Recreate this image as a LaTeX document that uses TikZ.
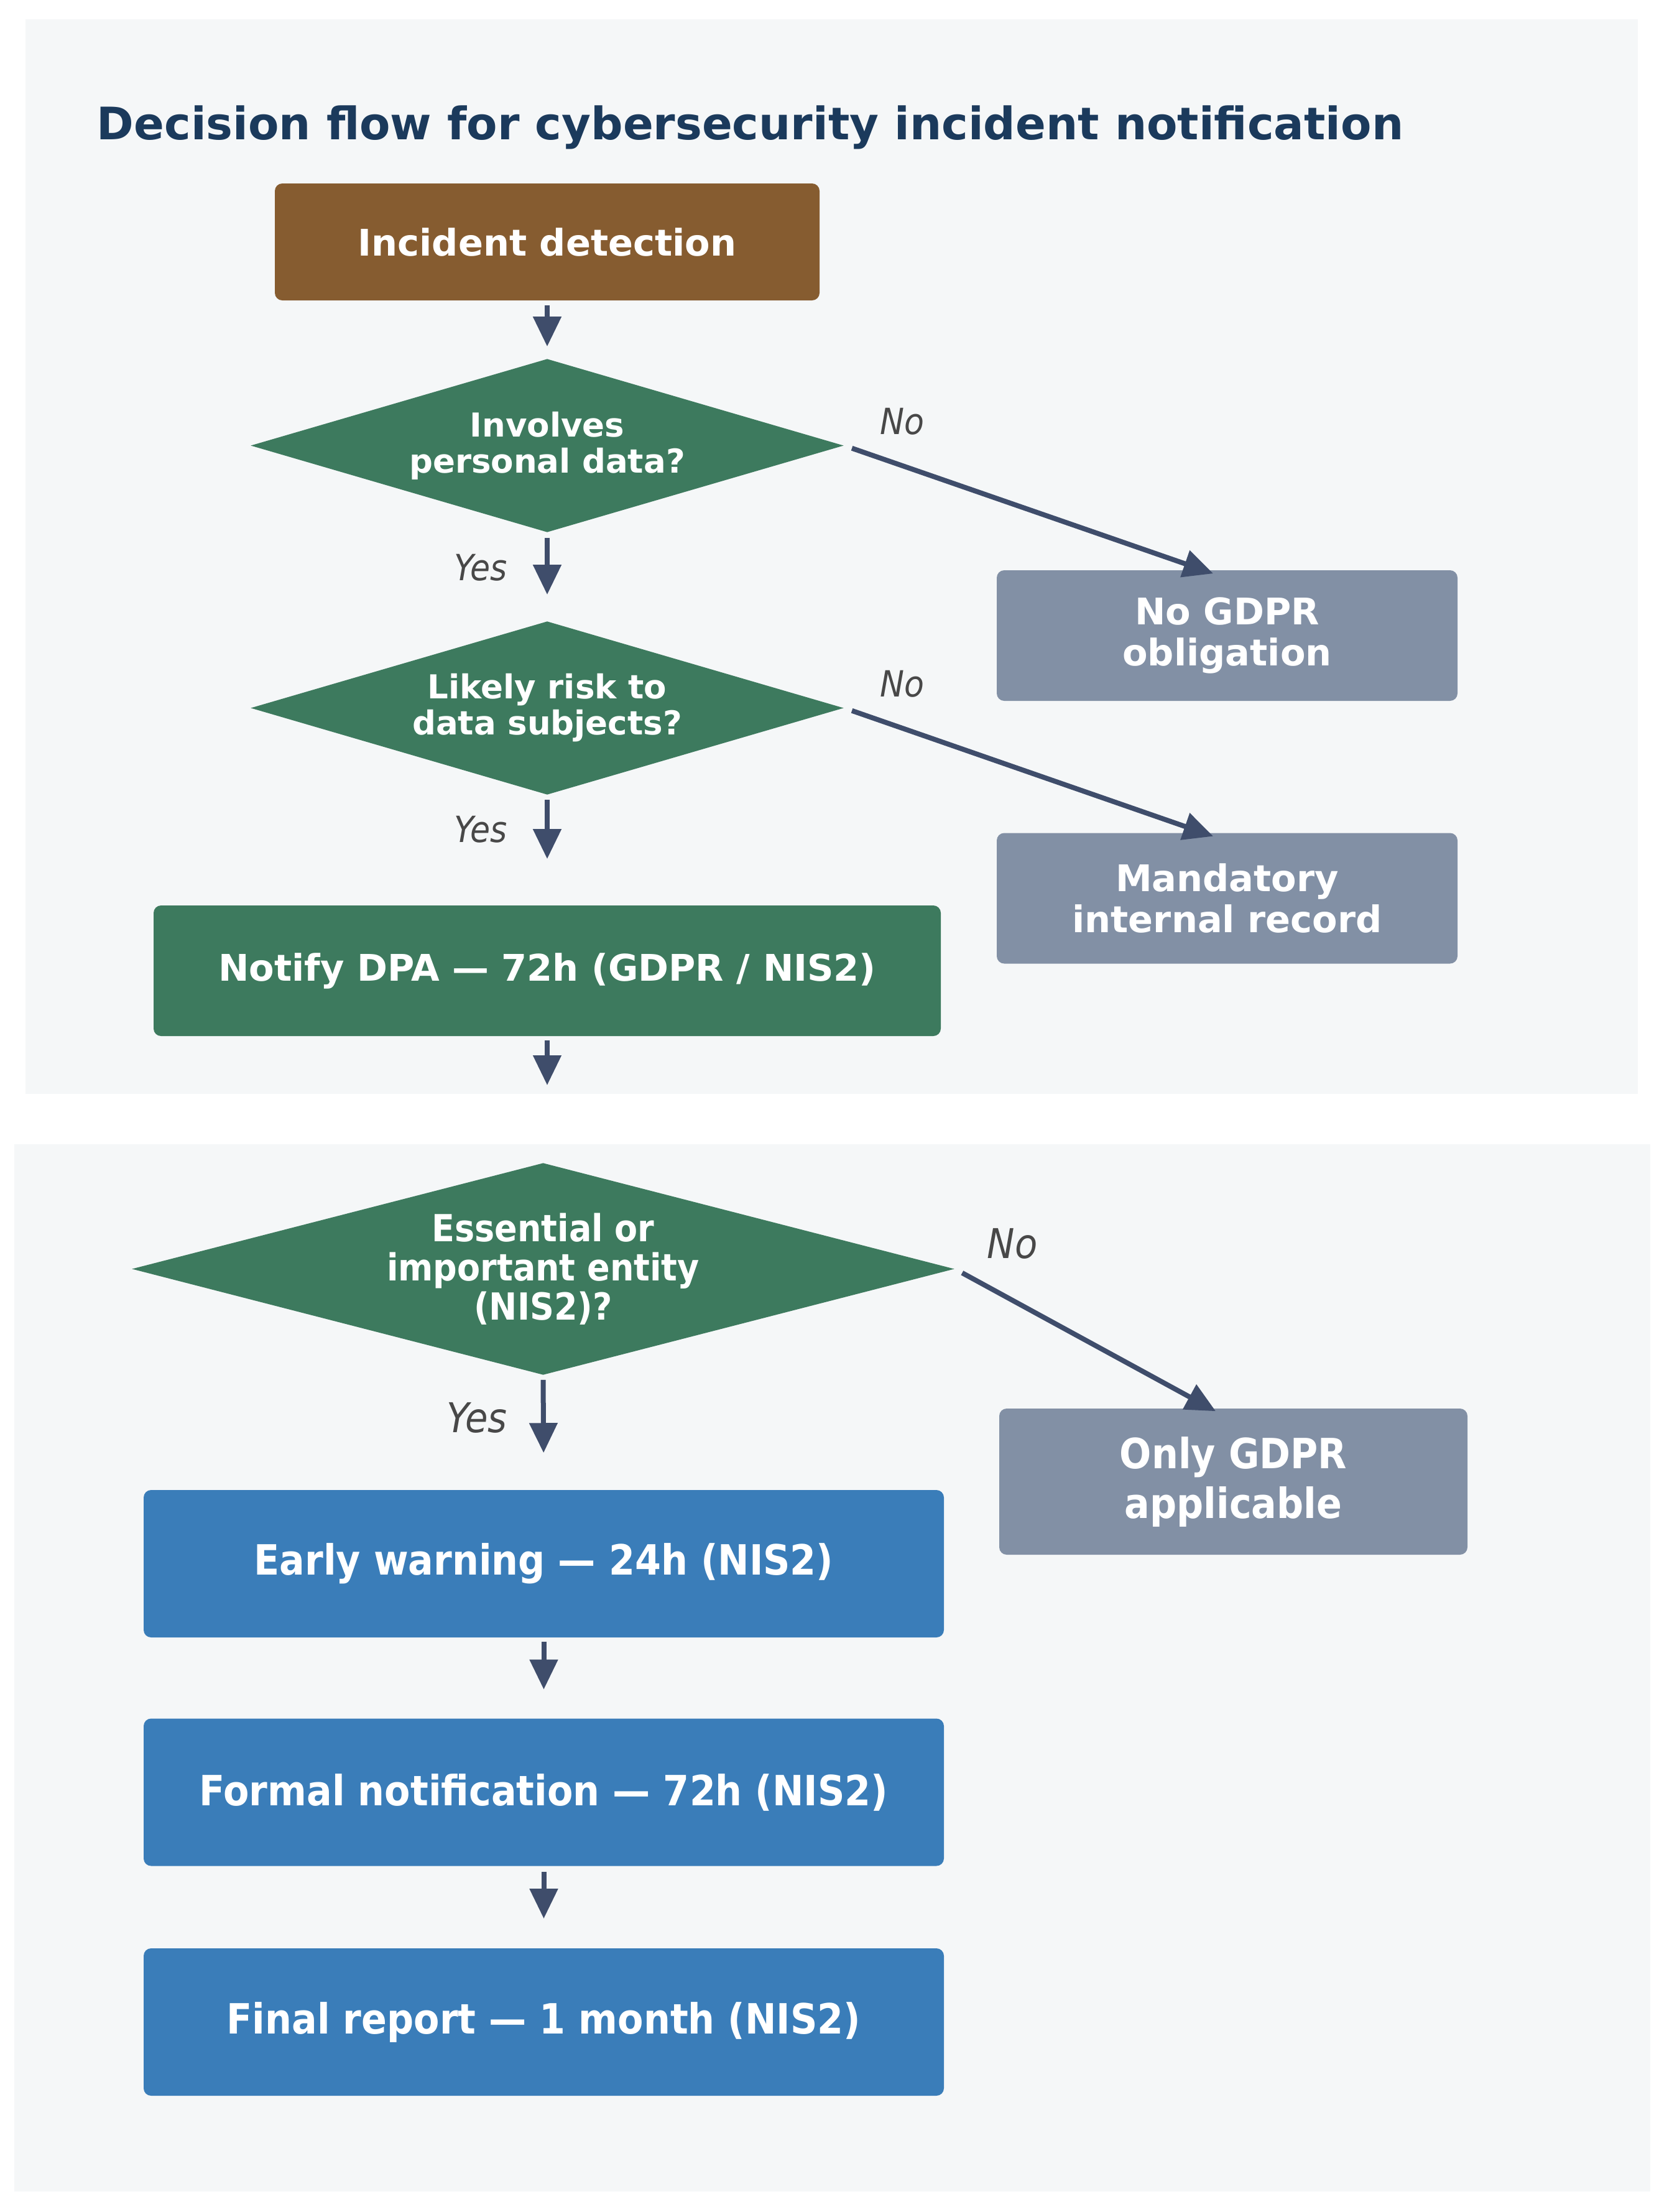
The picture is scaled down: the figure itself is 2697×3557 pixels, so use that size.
\documentclass[tikz,border=0pt]{standalone}
\usepackage{fontspec}
\setmainfont{DejaVu Sans}[ItalicFont={DejaVu Sans Oblique},BoldFont={DejaVu Sans Bold},BoldItalicFont={DejaVu Sans Bold Oblique}]
\newfontfamily\condfont{DejaVu Sans}[FakeStretch=0.9,ItalicFont={DejaVu Sans Oblique},BoldFont={DejaVu Sans Bold},BoldItalicFont={DejaVu Sans Bold Oblique}]
\usetikzlibrary{arrows.meta,shapes.geometric}
\definecolor{panelbg}{HTML}{F5F7F8}
\definecolor{brownbox}{RGB}{134,92,48}
\definecolor{greenbox}{RGB}{61,122,94}
\definecolor{graybox}{RGB}{130,144,165}
\definecolor{bluebox}{RGB}{58,125,185}
\definecolor{arrowc}{RGB}{63,77,107}
\definecolor{titlec}{RGB}{27,58,92}
\definecolor{lblc}{RGB}{72,72,72}
\newcommand\titlefnt{\fontsize{18pt}{21pt}\selectfont\bfseries}
\newcommand\boxfnt{\fontsize{14.75pt}{16.5pt}\selectfont\bfseries}
\newcommand\diafnt{\fontsize{13.25pt}{14.5pt}\selectfont\bfseries}
\newcommand\lblfnt{\condfont\fontsize{14.5pt}{16pt}\selectfont\itshape}
\newcommand\cboxfnt{\condfont\fontsize{16.75pt}{20pt}\selectfont\bfseries}
\newcommand\cdiafnt{\condfont\fontsize{15pt}{15.75pt}\selectfont\bfseries}
\newcommand\clblfnt{\condfont\fontsize{16.5pt}{18pt}\selectfont\itshape}
\begin{document}
\begin{tikzpicture}[x=0.25pt,y=-0.25pt,
  box/.style={rectangle, rounded corners=3pt, inner sep=0pt, align=center, text=white},
  dia/.style={diamond, inner sep=0pt, align=center, text=white, fill=greenbox},
  lbl/.style={text=lblc, inner sep=0pt},
  arr/.style={draw=arrowc, line width=2pt, -{Triangle[width=11pt,length=12pt]}}]
\useasboundingbox (0,0) rectangle (2697,3557);
\fill[white] (0,0) rectangle (2697,3557);
% panels
\fill[panelbg] (41,31) rectangle (2634,1759);
\fill[panelbg] (23,1840) rectangle (2654,3524);
% title
\node[anchor=base west, inner sep=0pt, text=titlec, font=\titlefnt] (title) at (155,224) {Decision flow for cybersecurity incident notification};
% top panel nodes
\node[box, fill=brownbox, minimum width=219pt, minimum height=47pt, font=\boxfnt] (incident) at (880,389) {Incident detection};
\node[dia, minimum width=238.5pt, minimum height=69.75pt, shape aspect=3.4, font=\diafnt] (d1) at (880,716.5) {Involves\\personal data?};
\node[dia, minimum width=238.5pt, minimum height=69.75pt, shape aspect=3.4, font=\diafnt] (d2) at (880,1138.5) {Likely risk to\\data subjects?};
\node[box, fill=greenbox, minimum width=316.5pt, minimum height=52.5pt, font=\boxfnt] (notify) at (880,1561) {Notify DPA — 72h (GDPR / NIS2)};
\node[box, fill=graybox, minimum width=185.25pt, minimum height=52.5pt, font=\boxfnt] (nogdpr) at (1973.5,1022) {No GDPR\\obligation};
\node[box, fill=graybox, minimum width=185.25pt, minimum height=52.5pt, font=\boxfnt] (mandatory) at (1973.5,1444.5) {Mandatory\\internal record};
\coordinate (contdown) at (880,1745);
% top labels
\node[lbl, font=\lblfnt] (no1) at (1451,678) {No};
\node[lbl, font=\lblfnt] (yes1) at (773,913) {Yes};
\node[lbl, font=\lblfnt] (no2) at (1451,1100) {No};
\node[lbl, font=\lblfnt] (yes2) at (773,1334) {Yes};
% top connectors
\draw[arr, shorten <=1.75pt, shorten >=4.75pt] (incident) -- (d1);
\draw[arr, shorten <=2pt, shorten >=10.5pt] (d1.south) -- (d2.north);
\draw[arr, shorten <=1.75pt, shorten >=18.5pt] (d2.south) -- (notify.north);
\draw[arr, shorten <=1.5pt] (notify.south) -- (contdown);
\draw[arr, shorten <=3.25pt] (d1.east) -- ([xshift=-5.6pt,yshift=-1.5pt]nogdpr.north);
\draw[arr, shorten <=3.25pt] (d2.east) -- ([xshift=-5.6pt,yshift=-1.5pt]mandatory.north);
% bottom panel nodes
\node[dia, minimum width=330.75pt, minimum height=85.25pt, shape aspect=3.9, font=\cdiafnt] (d3) at (873.5,2040.5) {Essential or\\important entity\\(NIS2)?};
\node[box, fill=graybox, minimum width=188.25pt, minimum height=58.75pt, font=\cboxfnt] (only) at (1983.5,2382.5) {Only GDPR\\applicable};
\node[box, fill=bluebox, minimum width=321.75pt, minimum height=59.25pt, font=\cboxfnt] (early) at (874.5,2514.5) {Early warning — 24h (NIS2)};
\node[box, fill=bluebox, minimum width=321.75pt, minimum height=59.25pt, font=\cboxfnt] (formal) at (874.5,2882) {Formal notification — 72h (NIS2)};
\node[box, fill=bluebox, minimum width=321.75pt, minimum height=59.25pt, font=\cboxfnt] (final) at (874.5,3251.5) {Final report — 1 month (NIS2)};
\node[lbl, font=\clblfnt] (no3) at (1628,2000) {No};
\node[lbl, font=\clblfnt] (yes3) at (767,2280) {Yes};
\draw[arr, shorten <=1.75pt, shorten >=14.75pt] (d3.south) -- (early.north);
\draw[arr, shorten <=1.5pt, shorten >=11.5pt] (early.south) -- (formal.north);
\draw[arr, shorten <=2.25pt, shorten >=11.75pt] (formal.south) -- (final.north);
\draw[arr, shorten <=3.3pt] (d3.east) -- ([xshift=-7.1pt,yshift=-1.25pt]only.north);
\end{tikzpicture}
\end{document}
